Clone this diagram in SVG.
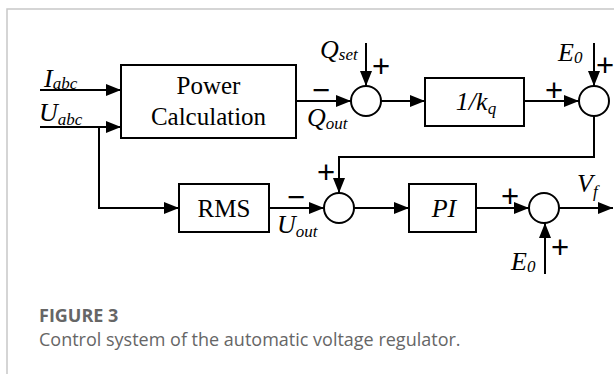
<svg xmlns="http://www.w3.org/2000/svg" width="614" height="374" viewBox="0 0 614 374">
<style>
.ln{fill:none;stroke:#000;stroke-width:2}
.bx{fill:#fff;stroke:#000;stroke-width:2}
.sum{fill:#fff;stroke:#000;stroke-width:2}
.t{font-family:"Liberation Serif",serif;font-size:25px;fill:#000}
.v{font-family:"Liberation Serif",serif;font-style:italic;font-size:26px;fill:#000}
.s{font-size:17px}
.sg{font-family:"Liberation Sans",sans-serif;font-size:31px;fill:#000;text-anchor:middle}
.mn{font-family:"Liberation Sans",sans-serif;font-size:20px;font-weight:bold;fill:#000;text-anchor:middle}
.cap{font-family:"Open Sans",sans-serif;fill:#666}
</style>
<defs>
<marker id="ah" markerUnits="userSpaceOnUse" markerWidth="15" markerHeight="12" refX="15" refY="6" orient="auto">
<path d="M0,0 L15,6 L0,12 z" fill="#000"/>
</marker>
</defs>
<g id="frame">
<path d="M7,374 V9 H614" fill="none" stroke="#c8c8c8" stroke-width="1.5"/>
</g>
<g id="connectors">
<path class="ln" d="M40,90 H121" marker-end="url(#ah)"/>
<path class="ln" d="M40,127 H121" marker-end="url(#ah)"/>
<path class="ln" d="M99,127 V208 H179" marker-end="url(#ah)"/>
<path class="ln" d="M296,101 H351" marker-end="url(#ah)"/>
<path class="ln" d="M366,43 V86" marker-end="url(#ah)"/>
<path class="ln" d="M381,101 H425" marker-end="url(#ah)"/>
<path class="ln" d="M524,101 H579" marker-end="url(#ah)"/>
<path class="ln" d="M594,43 V86" marker-end="url(#ah)"/>
<path class="ln" d="M594,116 V157 H339 V193" marker-end="url(#ah)"/>
<path class="ln" d="M269,208 H324" marker-end="url(#ah)"/>
<path class="ln" d="M354,208 H409" marker-end="url(#ah)"/>
<path class="ln" d="M476,208 H529" marker-end="url(#ah)"/>
<path class="ln" d="M545,274 V223" marker-end="url(#ah)"/>
<path class="ln" d="M559,208 H613" marker-end="url(#ah)"/>
</g>
<g id="power">
<rect class="bx" x="121" y="65" width="175" height="73"/>
<text class="t" x="208.5" y="94" text-anchor="middle">Power</text>
<text class="t" x="208.5" y="125" text-anchor="middle">Calculation</text>
</g>
<g id="sum1">
<circle class="sum" cx="366" cy="101" r="15"/>
</g>
<g id="kq">
<rect class="bx" x="425" y="78" width="99" height="48"/>
<text class="v" x="476" y="110" text-anchor="middle">1/k<tspan class="s" dy="4">q</tspan></text>
</g>
<g id="sum2">
<circle class="sum" cx="594" cy="101" r="15"/>
</g>
<g id="rms">
<rect class="bx" x="179" y="184" width="90" height="48"/>
<text class="t" x="224" y="217" text-anchor="middle">RMS</text>
</g>
<g id="sum3">
<circle class="sum" cx="339" cy="208" r="15"/>
</g>
<g id="pi">
<rect class="bx" x="409" y="184" width="67" height="48"/>
<text class="v" x="444" y="217" text-anchor="middle">PI</text>
</g>
<g id="sum4">
<circle class="sum" cx="544" cy="208" r="15"/>
</g>
<g id="labels">
<text class="v" x="44" y="87">I<tspan class="s" dy="2">abc</tspan></text>
<text class="v" x="39" y="121">U<tspan class="s" dy="4">abc</tspan></text>
<text class="v" x="320" y="58">Q<tspan class="s" dy="2">set</tspan></text>
<text class="v" x="307" y="126">Q<tspan class="s" dy="3">out</tspan></text>
<text class="v" x="558" y="61">E<tspan class="s" dy="2">0</tspan></text>
<text class="v" x="277" y="233">U<tspan class="s" dy="4">out</tspan></text>
<text class="v" x="511" y="270">E<tspan class="s" dy="2">0</tspan></text>
<text class="v" x="577" y="192">V<tspan class="s" dy="5">f</tspan></text>
<text class="sg" x="381" y="77">+</text>
<text class="sg" x="605" y="76">+</text>
<text class="sg" x="554" y="101">+</text>
<text class="sg" x="326" y="183">+</text>
<text class="sg" x="510" y="207">+</text>
<text class="sg" x="560" y="258">+</text>
<text class="mn" transform="translate(321,97) scale(1.5,1)">−</text>
<text class="mn" transform="translate(296,204) scale(1.5,1)">−</text>
</g>
<g id="caption">
<text class="cap" x="39" y="322" font-size="18" font-weight="bold">FIGURE 3</text>
<text class="cap" x="39" y="346" font-size="18">Control system of the automatic voltage regulator.</text>
</g>
</svg>
